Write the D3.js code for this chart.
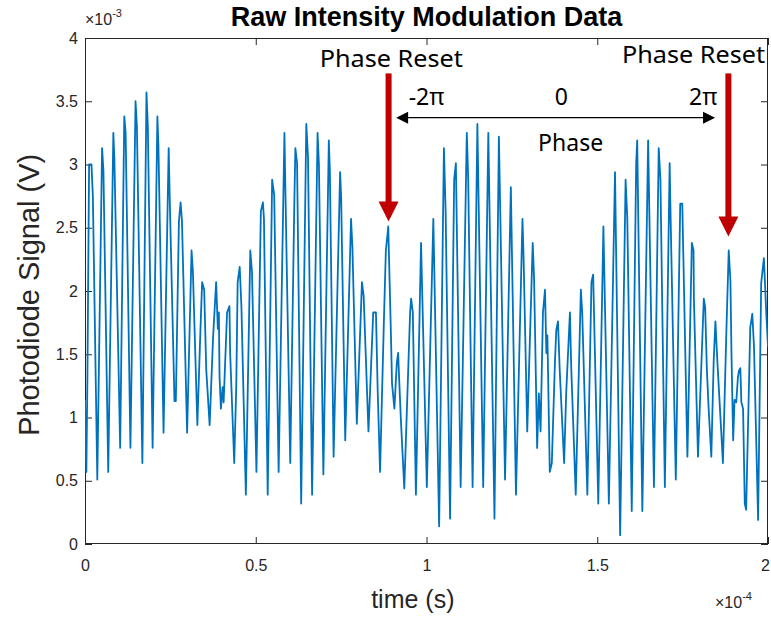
<html>
<head>
  <meta charset="utf-8">
  <title>raw intensity modulation</title>
  <script src="https://cdn.jsdelivr.net/npm/d3@7"></script>
</head>
<style>
  body {
    margin: 0;
    padding: 0;
    background: #fff;
  }
</style>
<body>
  <div id="chart"></div>
</body>
<script>
  // time in microseconds (axis shows x1e-4 s), signal in mV (axis shows x1e-3 V)
  const timeUs = [
    0.0, 0.4, 0.7, 1.2, 1.9, 2.3, 3.6, 5.0, 5.4, 6.8, 8.3, 8.6,
    10.3, 11.5, 11.9, 13.3, 14.8, 15.2, 16.8, 18.0, 18.4, 19.8, 21.2, 21.5,
    23.0, 24.5, 24.8, 26.2, 26.6, 27.5, 28.0, 28.4, 29.9, 31.2, 31.6, 32.9,
    33.8, 34.3, 34.9, 35.5, 36.5, 37.5, 38.4, 38.9, 39.2, 39.4, 39.8, 40.3,
    40.6, 41.6, 42.3, 42.5, 43.7, 44.3, 44.7, 45.3, 45.8, 47.1, 48.4, 48.9,
    50.2, 51.5, 52.1, 52.4, 53.5, 54.8, 55.4, 56.7, 58.4, 58.7, 60.1, 61.3,
    61.6, 62.1, 63.3, 64.8, 65.3, 66.5,
    68.1, 68.5, 69.8, 71.4, 71.7, 72.8, 74.7, 75.0, 76.2, 77.9, 78.3, 79.6,
    81.1, 81.6, 83.0, 84.4, 85.2, 85.7, 86.4, 87.5, 88.1, 88.8, 89.6, 89.9,
    90.6, 91.3, 91.7, 92.0, 92.5, 93.5, 95.2, 95.5, 96.0, 96.9, 98.4, 100.1,
    102.0, 103.7, 105.1, 105.6, 106.9, 108.1, 108.6, 110.0, 111.8, 112.2, 113.5, 114.9,
    116.6, 118.1, 119.9, 121.2, 123.0, 124.7, 126.2, 128.1, 128.4, 129.5, 131.1, 131.5,
    132.4,
    132.9, 133.4, 134.1, 134.7, 135.1, 135.4, 136.1, 136.7, 137.6, 138.0, 138.5, 139.0,
    140.3, 140.9, 142.0, 142.4, 143.7, 145.2, 145.6, 147.1, 148.3, 148.8, 150.3, 151.8,
    153.4, 155.2, 156.7, 158.3, 158.8, 160.1, 161.4, 161.7, 163.2, 164.9, 166.6,
    168.0, 168.5, 169.8, 171.2, 171.4, 173.0, 174.3, 174.9, 176.4, 177.7, 178.2, 178.3,
    179.5, 181.2, 181.6, 182.1, 182.6, 183.4, 184.1, 184.6, 185.2, 186.3, 186.8, 187.8,
    188.5, 189.0, 189.3, 189.8, 190.2, 190.7, 191.2, 191.5, 191.9, 192.2, 192.7, 193.2,
    193.6, 194.8, 195.4, 195.9, 197.1, 198.0, 198.8, 199.5, 200.0
  ]
  const signalMv = [
    1.14, 0.57, 1.30, 3.00, 3.00, 2.75, 0.51, 3.13, 2.95, 0.57, 3.25, 3.05,
    0.76, 3.38, 3.25, 0.76, 3.50, 3.30, 0.64, 3.57, 3.30, 0.76, 3.38, 3.15,
    0.88, 3.13, 2.75, 1.13, 1.13, 2.55, 2.70, 2.55, 0.88, 2.32, 2.15, 0.94,
    1.69, 2.07, 2.01, 1.38, 0.94, 1.63, 2.07, 1.70, 1.83, 1.32, 1.07, 1.24,
    1.12, 1.83, 1.88, 1.51, 0.64, 1.26, 2.07, 2.19, 1.88, 0.39, 2.32, 2.15,
    0.57, 2.63, 2.70, 2.57, 0.39, 2.88, 2.76, 0.57, 3.25, 2.77, 0.64, 2.70,
    3.13, 3.01, 0.32, 3.32, 3.06, 0.39,
    3.25, 3.00, 0.55, 3.19, 2.95, 0.69, 2.94, 2.75, 0.82, 2.57, 2.35, 0.95,
    2.07, 1.96, 0.89, 1.83, 1.83, 1.22, 0.57, 1.74, 2.32, 2.51, 1.64, 1.27,
    1.07, 1.43, 1.51, 1.30, 0.98, 0.44, 1.83, 1.94, 1.83, 0.39, 2.38, 0.45,
    2.57, 0.14, 3.13, 2.63, 0.20, 2.88, 3.01, 0.45, 3.25, 2.90, 0.45, 3.32,
    0.45, 3.25, 0.20, 3.22, 0.51, 2.82, 0.39, 2.57, 2.30, 0.89, 2.38, 2.10,
    0.76,
    1.19, 0.89, 1.83, 2.01, 1.51, 1.65, 0.57, 0.64, 1.43, 1.69, 1.76, 1.38,
    0.64, 1.19, 1.83, 1.38, 0.39, 2.01, 1.83, 0.39, 2.07, 2.13, 0.32, 2.51,
    0.32, 2.94, 0.07, 2.88, 2.57, 0.26, 3.01, 3.19, 0.26, 3.19, 0.45,
    3.13, 2.88, 0.45, 3.01, 2.70, 0.51, 2.69, 2.69, 0.69, 2.38, 2.32, 1.94,
    0.69, 1.94, 1.87, 1.38, 1.08, 0.69, 1.45, 1.76, 1.43, 0.89, 0.64, 1.67,
    2.32, 2.08, 1.51, 0.82, 1.14, 1.12, 1.32, 1.37, 1.39, 1.12, 1.07, 0.32,
    0.27, 1.71, 1.82, 1.56, 0.19, 2.06, 2.26, 1.82, 1.56
  ]

  const xTicks = [0, 50, 100, 150, 200]
  const xTickLabels = ["0", "0.5", "1", "1.5", "2"]
  const yTicks = [0, 0.5, 1, 1.5, 2, 2.5, 3, 3.5, 4]
  const yTickLabels = ["0", "0.5", "1", "1.5", "2", "2.5", "3", "3.5", "4"]

  // annotations (data units)
  const resetTimes = [88.9, 188.4]
  const resetTips = [2.55, 2.43]
  const resetLabelTimes = [89.7, 178.2]
  const resetLabelY = [3.77, 3.80]
  const phaseLabels = ["-2π", "0", "2π"]
  const phaseLabelTimes = [100.0, 139.5, 181.0]
  const phaseSpan = [91.1, 184.5]

  main()

  function main() {
    const width = 771
    const height = 624
    const m = { left: 85, right: 3, top: 38, bottom: 80 }
    const ink = "#262626"

    const svg = d3.select("#chart").append("svg")
      .attr("width", width)
      .attr("height", height)
      .style("font-family", "'Liberation Sans', Arial, sans-serif")

    const x = d3.scaleLinear().domain([0, 200]).range([m.left, width - m.right])
    const y = d3.scaleLinear().domain([0, 4]).range([height - m.bottom, m.top])

    svg.append("defs").append("clipPath").attr("id", "plotclip")
      .append("rect")
      .attr("x", x(0)).attr("y", y(4))
      .attr("width", x(200) - x(0)).attr("height", y(0) - y(4))

    //軸
    const fmtX = (d, i) => xTickLabels[i]
    const fmtY = (d, i) => yTickLabels[i]
    svg.append("g").attr("class", "xaxis").attr("transform", `translate(0,${y(0)})`)
      .call(d3.axisBottom(x).tickValues(xTicks).tickFormat(fmtX).tickPadding(16)
        .tickSizeInner(-7).tickSizeOuter(0))
    svg.append("g").attr("transform", `translate(0,${y(4)})`)
      .call(d3.axisTop(x).tickValues(xTicks).tickFormat("")
        .tickSizeInner(-7).tickSizeOuter(0))
    svg.append("g").attr("transform", `translate(${x(0)},0)`)
      .call(d3.axisLeft(y).tickValues(yTicks).tickFormat(fmtY)
        .tickSizeInner(-7).tickSizeOuter(0).tickPadding(7))
    svg.append("g").attr("transform", `translate(${x(200)},0)`)
      .call(d3.axisRight(y).tickValues(yTicks).tickFormat("")
        .tickSizeInner(-7).tickSizeOuter(0))

    svg.selectAll(".domain").remove()
    svg.selectAll(".tick line").attr("stroke", ink)
    svg.selectAll(".tick text")
      .attr("fill", ink)
      .style("font-size", "16px")
      .style("font-family", "'Liberation Sans', Arial, sans-serif")
    // keep the last x label inside the page
    svg.selectAll(".xaxis .tick text").filter((d) => d === 200).attr("dx", -3)

    svg.append("rect")
      .attr("x", x(0) + 0.5).attr("y", y(4) + 0.5)
      .attr("width", x(200) - x(0) - 1).attr("height", y(0) - y(4) - 1)
      .attr("fill", "none").attr("stroke", ink).attr("stroke-width", 1)

    //信号
    const pts = timeUs.map((t, i) => [t, signalMv[i]])
    svg.append("path")
      .datum(pts)
      .attr("clip-path", "url(#plotclip)")
      .attr("fill", "none")
      .attr("stroke", "#0072BD")
      .attr("stroke-width", 1.8)
      .attr("stroke-linejoin", "round")
      .attr("d", d3.line().x(d => x(d[0])).y(d => y(d[1])))

    // exponent labels
    const e3 = svg.append("text").attr("x", x(0)).attr("y", 25)
      .attr("fill", ink).style("font-size", "16px").text("×10")
    e3.append("tspan").attr("dy", -8).style("font-size", "11px").text("-3")
    const e4 = svg.append("text").attr("x", 715).attr("y", 608)
      .attr("fill", ink).style("font-size", "16px").text("×10")
    e4.append("tspan").attr("dy", -8).style("font-size", "11px").text("-4")

    // title & labels
    svg.append("text")
      .attr("x", (x(0) + x(200)) / 2).attr("y", 26)
      .attr("text-anchor", "middle")
      .style("font-size", "27px").style("font-weight", "bold")
      .attr("fill", "#000")
      .text("Raw Intensity Modulation Data")

    svg.append("text")
      .attr("x", x(96)).attr("y", 608)
      .attr("text-anchor", "middle")
      .style("font-size", "25px")
      .attr("fill", ink)
      .text("time (s)")

    svg.append("text")
      .attr("transform", `translate(39,${y(1.97)}) rotate(-90)`)
      .attr("text-anchor", "middle")
      .style("font-size", "29px")
      .attr("fill", ink)
      .text("Photodiode Signal (V)")

    //注釈
    const note = svg.append("g").style("font-family", "'Noto Sans', 'Open Sans', sans-serif")
    const red = "#C00000"
    resetTimes.forEach((t, i) => {
      const cx = x(t)
      const tip = y(resetTips[i])
      note.append("rect")
        .attr("x", cx - 3).attr("y", y(3.72))
        .attr("width", 6).attr("height", tip - 19 - y(3.72))
        .attr("fill", red)
      note.append("path")
        .attr("d", `M${cx - 10},${tip - 20}L${cx + 10},${tip - 20}L${cx},${tip}Z`)
        .attr("fill", red)
      note.append("text")
        .attr("x", x(resetLabelTimes[i])).attr("y", y(resetLabelY[i]))
        .attr("text-anchor", "middle")
        .style("font-size", "24px")
        .attr("textLength", 143).attr("lengthAdjust", "spacingAndGlyphs")
        .text("Phase Reset")
    })

    const ay = y(3.37)
    const x0 = x(phaseSpan[0])
    const x1 = x(phaseSpan[1])
    note.append("line")
      .attr("x1", x0 + 10).attr("x2", x1 - 10)
      .attr("y1", ay).attr("y2", ay)
      .attr("stroke", "#000").attr("stroke-width", 1.3)
    note.append("path")
      .attr("d", `M${x0},${ay}L${x0 + 12},${ay - 6}L${x0 + 12},${ay + 6}Z`)
    note.append("path")
      .attr("d", `M${x1},${ay}L${x1 - 12},${ay - 6}L${x1 - 12},${ay + 6}Z`)

    note.selectAll(".plab").data(phaseLabels).join("text")
      .attr("class", "plab")
      .attr("x", (d, i) => x(phaseLabelTimes[i]))
      .attr("y", y(3.47))
      .attr("text-anchor", "middle")
      .style("font-size", "23px")
      .text(d => d)

    note.append("text")
      .attr("x", x(142.2)).attr("y", y(3.11))
      .attr("text-anchor", "middle")
      .style("font-size", "23px")
      .text("Phase")
  }
</script>
</html>
